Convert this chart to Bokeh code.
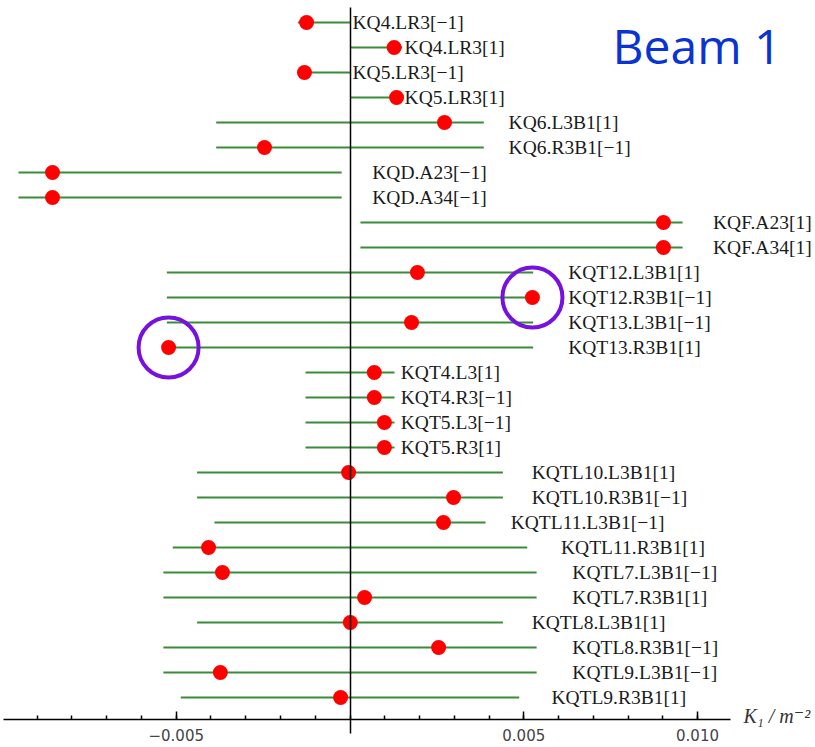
from bokeh.plotting import figure
from bokeh.models import (Range1d, LinearAxis, FixedTicker, CustomJSTickFormatter,
                          ColumnDataSource, Label)
from bokeh.core.properties import value
from bokeh.embed import file_html
from bokeh.resources import INLINE

# ---------------- data ----------------
names = ["KQ4.LR3[−1]", "KQ4.LR3[1]", "KQ5.LR3[−1]", "KQ5.LR3[1]",
         "KQ6.L3B1[1]", "KQ6.R3B1[−1]", "KQD.A23[−1]", "KQD.A34[−1]",
         "KQF.A23[1]", "KQF.A34[1]", "KQT12.L3B1[1]", "KQT12.R3B1[−1]",
         "KQT13.L3B1[−1]", "KQT13.R3B1[1]", "KQT4.L3[1]", "KQT4.R3[−1]",
         "KQT5.L3[−1]", "KQT5.R3[1]", "KQTL10.L3B1[1]", "KQTL10.R3B1[−1]",
         "KQTL11.L3B1[−1]", "KQTL11.R3B1[1]", "KQTL7.L3B1[−1]", "KQTL7.R3B1[1]",
         "KQTL8.L3B1[1]", "KQTL8.R3B1[−1]", "KQTL9.L3B1[−1]", "KQTL9.R3B1[1]"]

range_lo = [-0.0015, 0.0, -0.0015, 0.0,
            -0.00385, -0.00385, -0.00954, -0.00954,
            0.0003, 0.0003, -0.00527, -0.00527,
            -0.00527, -0.00527, -0.00128, -0.00128,
            -0.00128, -0.00128, -0.0044, -0.0044,
            -0.0039, -0.0051, -0.00537, -0.00537,
            -0.0044, -0.00537, -0.00537, -0.00487]

range_hi = [0.0, 0.0015, 0.0, 0.0015,
            0.00385, 0.00385, -0.00024, -0.00024,
            0.00957, 0.00957, 0.00527, 0.00527,
            0.00527, 0.00527, 0.00128, 0.00128,
            0.00128, 0.00128, 0.0044, 0.0044,
            0.0039, 0.0051, 0.00537, 0.00537,
            0.0044, 0.00537, 0.00537, 0.00487]

k1_values = [-0.00125, 0.00127, -0.00131, 0.00134,
             0.00272, -0.00246, -0.00856, -0.00856,
             0.00902, 0.00902, 0.00194, 0.00525,
             0.00177, -0.00522, 0.0007, 0.0007,
             0.00099, 0.00099, -0.00004, 0.00298,
             0.00269, -0.00407, -0.00367, 0.00042,
             0.00001, 0.00255, -0.00373, -0.00027]

circled = ["KQT12.R3B1[−1]", "KQT13.R3B1[1]"]

major_ticks = [-0.005, 0.005, 0.010]
minor_ticks = [-0.009, -0.008, -0.007, -0.006, -0.005, -0.004, -0.003, -0.002, -0.001,
               0.0, 0.001, 0.002, 0.003, 0.004, 0.005, 0.006, 0.007, 0.008, 0.009, 0.010]

title_text = "Beam 1"
axis_text = "K₁ / m⁻²"

# ---------------- layout ----------------
W, H = 815, 747
PX_PER_X = 34753.0
X0_PX = 349.5
ROW_PX = 25.0
TOP_PX = 22.0

x_start = -X0_PX / PX_PER_X
x_end = (W - X0_PX) / PX_PER_X
y_end = TOP_PX / ROW_PX
y_start = y_end - H / ROW_PX

n = len(names)
ys = [-i for i in range(n)]

p = figure(width=W, height=H, x_range=Range1d(x_start, x_end),
           y_range=Range1d(y_start, y_end), x_axis_type=None, y_axis_type=None,
           min_border=0, toolbar_location=None, output_backend="svg")
p.outline_line_color = None
p.background_fill_color = "white"
p.border_fill_color = "white"

# label positions derived from the range bars
lab_x = [h + 0.1035 * (h - l) - 2.9 / PX_PER_X for l, h in zip(range_lo, range_hi)]

src = ColumnDataSource(dict(name=names, lo=range_lo, hi=range_hi, k=k1_values,
                            y=ys, lx=lab_x))

p.segment(x0="lo", y0="y", x1="hi", y1="y", source=src,
          line_color="#3a8c3a", line_width=2.0)
p.scatter(x="k", y="y", source=src, size=15, fill_color="#ff0000",
          line_color=None)
p.text(x="lx", y="y", text="name", source=src, text_align="left",
       text_baseline="middle", text_font=value("Liberation Serif"),
       text_font_size="19.5px", text_color="#1a1a1a")

idx = [names.index(c) for c in circled]
p.scatter(x=[k1_values[i] for i in idx], y=[ys[i] for i in idx], size=60,
          fill_color=None, line_color="#7711dd", line_width=4)

# horizontal axis (inside the frame)
axis_y = y_end - 719 / ROW_PX
xa = LinearAxis(fixed_location=axis_y,
                bounds=((3 - X0_PX) / PX_PER_X, (730 - X0_PX) / PX_PER_X),
                ticker=FixedTicker(ticks=major_ticks, minor_ticks=minor_ticks),
                formatter=CustomJSTickFormatter(
                    code="return tick.toFixed(3).replace('-', '\u2212');"))
xa.axis_line_color = "black"
xa.axis_line_width = 1.5
xa.major_tick_in = 8
xa.major_tick_out = 0
xa.minor_tick_in = 4
xa.minor_tick_out = 0
xa.major_tick_line_width = 1.5
xa.minor_tick_line_width = 1.5
xa.major_tick_line_color = "black"
xa.minor_tick_line_color = "black"
xa.major_label_text_font = "DejaVu Sans"
xa.major_label_text_font_size = "15px"
xa.major_label_text_color = "#444444"
xa.major_label_standoff = 9
p.add_layout(xa, "below")

# vertical axis at x = 0
ya = LinearAxis(fixed_location=0.0,
                bounds=(y_end - 733 / ROW_PX, y_end - 7 / ROW_PX),
                ticker=FixedTicker(ticks=[]))
ya.axis_line_color = "black"
ya.axis_line_width = 1.5
ya.major_tick_in = 0
ya.major_tick_out = 0
ya.minor_tick_in = 0
ya.minor_tick_out = 0
ya.major_label_text_font_size = "0px"
p.add_layout(ya, "left")

p.add_layout(Label(x=(743 - X0_PX) / PX_PER_X, y=y_end - 715 / ROW_PX,
                   text=axis_text, text_baseline="middle", text_align="left",
                   text_font="Liberation Serif, DejaVu Serif",
                   text_font_style="italic", text_font_size="20px",
                   text_color="#333333"))

p.add_layout(Label(x=(612 - X0_PX) / PX_PER_X, y=y_end - 45 / ROW_PX,
                   text=title_text, text_baseline="alphabetic", text_align="left",
                   text_font="Open Sans", text_font_size="48px",
                   text_color="#0a34d2"))

open("out.html", "w").write(file_html(p, INLINE))
